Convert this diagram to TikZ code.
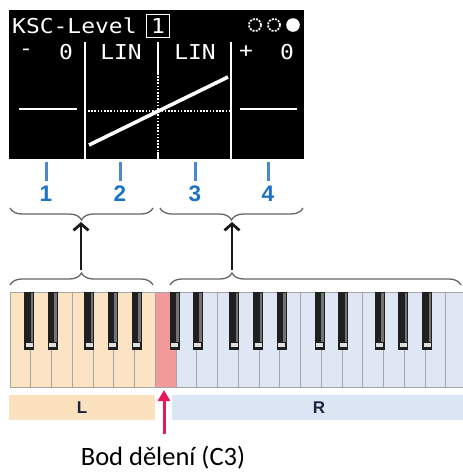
\documentclass[tikz,border=0pt]{standalone}
\usepackage{fontspec}
\setmainfont{Carlito}
\newfontfamily\lcd[FakeStretch=1.12]{DejaVu Sans Mono}
\newfontfamily\lab{Liberation Sans}
\usetikzlibrary{arrows.meta,decorations.pathreplacing}
\definecolor{peachkey}{HTML}{FBE3C4}
\definecolor{peachbar}{HTML}{FCE1BE}
\definecolor{bluekey}{HTML}{DFE7F5}
\definecolor{bluebar}{HTML}{DCE5F3}
\definecolor{pinkkey}{HTML}{F29A9A}
\definecolor{splitred}{HTML}{E8185C}
\definecolor{numblue}{HTML}{1E72C6}
\definecolor{tickblue}{HTML}{4C88CE}
\definecolor{bracegray}{HTML}{666666}
\definecolor{navy}{HTML}{1A2440}
\tikzset{
  lcdtext/.style={text=white, font=\lcd\fontsize{20.5}{21}\selectfont, inner sep=0pt},
  lcdline/.style={white, line width=1.6pt},
  lcddot/.style={white, line width=1.6pt, dash pattern=on 1.6pt off 1.6pt},
  tick/.style={tickblue, line width=3pt},
  numlabel/.style={text=numblue, font=\lab\bfseries\fontsize{22.5}{23}\selectfont, inner sep=0pt},
  ubrace/.style={bracegray, line width=1.3pt, decorate, decoration={brace, mirror, amplitude=12pt}},
  lbrace/.style={bracegray, line width=1.3pt, decorate, decoration={brace, amplitude=12pt}},
  uparrow/.style={black!90, line width=2.8pt, -{Straight Barb[length=6.5pt,width=15pt]}},
  wkey/.style={draw=gray!70, line width=0.8pt},
  bkey/.style={fill=black!88},
  barlabel/.style={text=navy, font=\lab\bfseries\fontsize{17}{18}\selectfont},
  splitarrow/.style={splitred, line width=3pt, -{Triangle[length=11pt,width=12pt]}},
}
\begin{document}
\begin{tikzpicture}[x=1pt,y=-1pt]
\useasboundingbox (0,0) rectangle (463,472);

% ---------- screen ----------
\fill[black] (9,10) rectangle (304,159);
\node[lcdtext, anchor=west] (title) at (12,26) {KSC-Level};
\node[lcdtext, draw=white, line width=1.6pt, minimum size=23pt] (part) at (158,26) {1};
\draw[white, line width=1.8pt, dash pattern=on 2pt off 1.2pt] (255,25) circle[radius=6pt];
\draw[white, line width=1.8pt, dash pattern=on 2pt off 1.2pt] (274,25) circle[radius=6pt];
\fill[white] (293,25) circle[radius=6.8pt];

\node[lcdtext] (m1) at (26,52) {-};
\node[lcdtext] (v1) at (66,52) {0};
\node[lcdtext] (c2) at (121,52) {LIN};
\node[lcdtext] (c3) at (195,52) {LIN};
\node[lcdtext] (p4) at (246,52) {+};
\node[lcdtext] (v4) at (287,52) {0};

\draw[lcdline] (85,42) -- (85,159);
\draw[lcdline] (231,42) -- (231,159);
\draw[lcdline] (158,42) -- (158,75);
\draw[lcddot] (158,76) -- (158,152);
\draw[lcdline] (158,152) -- (158,159);

\draw[lcdline] (19,109) -- (77,109);
\draw[lcdline] (240,109) -- (297,109);
\draw[lcddot] (88,111) -- (229,111);
\draw[white, line width=3.6pt] (89,145) -- (228,77);

% ---------- ticks and numbers ----------
\foreach \x/\n in {46/1,120/2,195/3,268/4}{
  \draw[tick] (\x,162) -- (\x,181);
  \node[numlabel] (n\n) at (\x,194) {\n};
}

% ---------- braces ----------
\draw[ubrace] (10,208) -- (153,208);
\draw[ubrace] (160,208) -- (303,208);
\draw[lbrace] (10,285) -- (153,285);
\draw[lbrace, decoration={brace, amplitude=12pt, aspect=0.213}] (170,285) -- (461,285);

\coordinate (lowL) at (81,270);
\coordinate (upL) at (81,222);
\coordinate (lowR) at (232,270);
\coordinate (upR) at (232,222);
\draw[uparrow] (lowL) -- (upL);
\draw[uparrow] (lowR) -- (upR);

% ---------- keyboard ----------
\foreach \i in {0,...,6}
  \draw[wkey, fill=peachkey] ({10+20.75*\i},292) rectangle ++(20.75,95);
\draw[wkey, fill=pinkkey] ({10+20.75*7},292) rectangle ++(20.75,95);
\begin{scope}
  \clip (170,280) rectangle (463,400);
  \foreach \i in {8,...,21}
    \draw[wkey, fill=bluekey] ({10+20.75*\i},292) rectangle ++(20.75,95);
\end{scope}
\foreach \o in {0,7,14}
  \foreach \k/\d in {1/-1.5,2/1,4/-4,5/-1,6/2}{
    \pgfmathsetmacro\c{10+20.75*(\o+\k)+\d}
    \fill[bkey] (\c-5,292) rectangle (\c+5,350);
    \fill[black!55] (\c+1.5,293) rectangle (\c+4,342);
    \fill[gray!25] (\c-3.5,343) rectangle (\c+3.5,346.5);
  }

% ---------- L / R bars ----------
\fill[peachbar] (9,395) rectangle (155,420);
\node[barlabel] (L) at (82,408) {L};
\fill[bluebar] (172,395) rectangle (463,420);
\node[barlabel] (R) at (319,408) {R};

% ---------- split point ----------
\coordinate (spfoot) at (164,434);
\coordinate (sphead) at (164,390);
\draw[splitarrow] (spfoot) -- (sphead);
\node[font=\fontsize{26.5}{27}\selectfont, inner sep=0pt] (bod) at (163,458) {Bod dělení (C3)};
\end{tikzpicture}
\end{document}
